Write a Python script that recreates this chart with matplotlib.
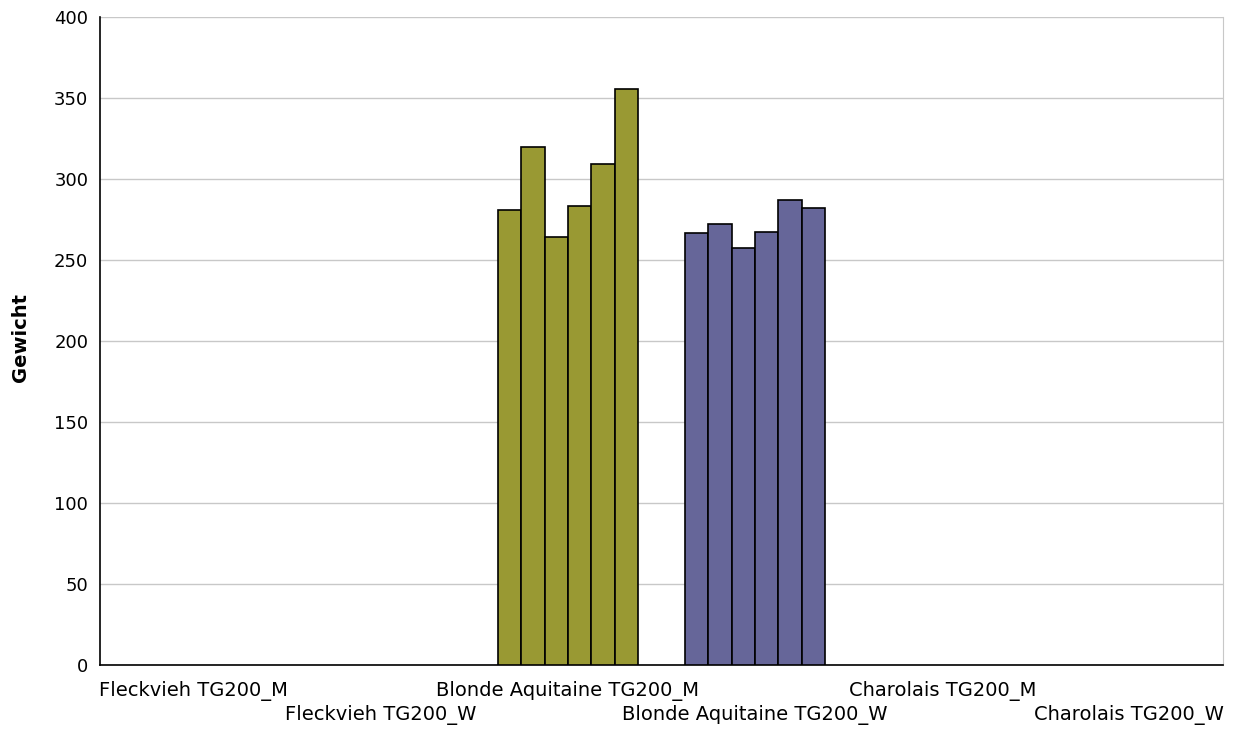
import matplotlib
matplotlib.use("Agg")
import matplotlib.pyplot as plt
import matplotlib.transforms as mtransforms
import numpy as np

plt.rcParams['font.family'] = ['DejaVu Sans']

categories = ["Fleckvieh TG200_M", "Fleckvieh TG200_W",
              "Blonde Aquitaine TG200_M", "Blonde Aquitaine TG200_W",
              "Charolais TG200_M", "Charolais TG200_W"]
# six bars per category (empty categories have no data)
values = {
    "Blonde Aquitaine TG200_M": [281, 319.5, 264, 283.5, 309.5, 355.5],
    "Blonde Aquitaine TG200_W": [266.5, 272.5, 257.5, 267.5, 287, 282],
}
colors = {
    "Blonde Aquitaine TG200_M": "#999933",
    "Blonde Aquitaine TG200_W": "#666699",
}
yticks = [0, 50, 100, 150, 200, 250, 300, 350, 400]

fig = plt.figure(figsize=(12.36, 7.29), dpi=100)
H = 729
ax = fig.add_axes([100/1236, 1 - 665/H, 1123/1236, 648/H])

n_bars = 6
group_w = 0.75
bw = group_w / n_bars
for ci, cat in enumerate(categories):
    if cat not in values:
        continue
    vals = values[cat]
    xs = ci - group_w/2 + bw/2 + np.arange(len(vals)) * bw
    ax.bar(xs, vals, width=bw, color=colors[cat], edgecolor='black', linewidth=1.2, zorder=3)

ax.set_xlim(-0.5, len(categories) - 0.5)
ax.set_ylim(0, 400)
ax.set_yticks(yticks)
ax.set_yticklabels([str(t) for t in yticks], fontsize=13)
ax.yaxis.grid(True, color='#c8c8c8', linewidth=1, zorder=0)
ax.set_axisbelow(True)
ax.tick_params(axis='y', length=0, pad=8.5)
ax.set_xticks(range(len(categories)))
ax.set_xticklabels([])
ax.tick_params(axis='x', length=0)

trans = mtransforms.blended_transform_factory(ax.transData, fig.transFigure)
for ci, cat in enumerate(categories):
    top_px = 681 if ci % 2 == 0 else 705
    ax.text(ci, 1 - top_px/H, cat, transform=trans,
            ha='center', va='top', fontsize=14)

for s in ['left', 'bottom']:
    ax.spines[s].set_color('black')
    ax.spines[s].set_linewidth(1.2)
ax.spines['top'].set_visible(False)
ax.spines['right'].set_color('#c8c8c8')

ax.set_ylabel("Gewicht", fontsize=14, fontweight='bold')
ax.yaxis.set_label_coords(21/1236, 1 - 338/H, transform=fig.transFigure)
ax.yaxis.label.set_va('center')

fig.savefig("out.png", dpi=100)
